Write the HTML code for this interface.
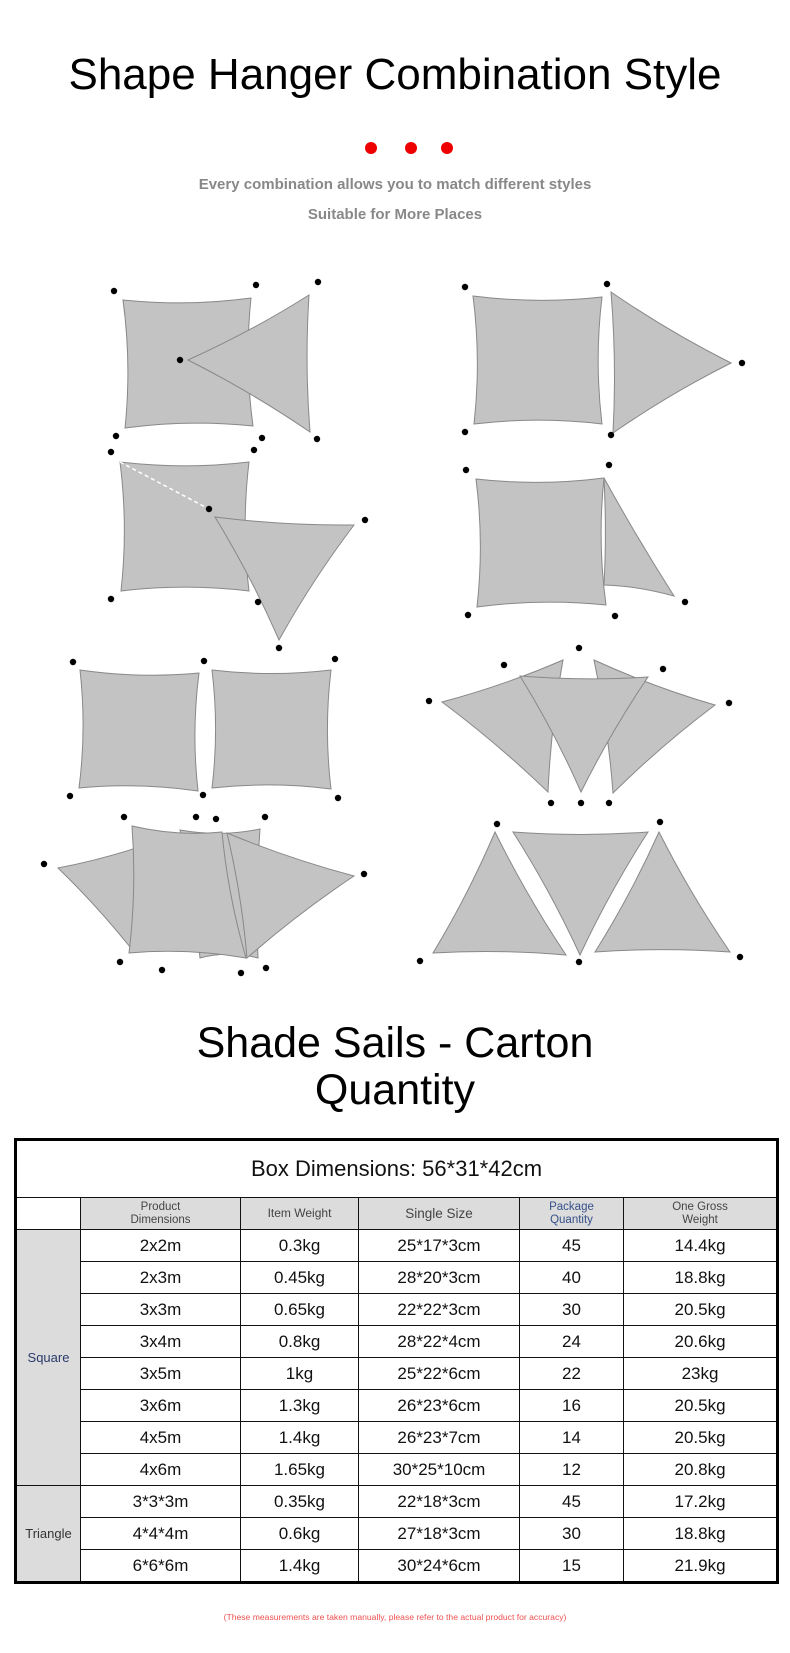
<!DOCTYPE html>
<html><head><meta charset="utf-8"><style>
body{margin:0;width:790px;height:1653px;background:#fff;position:relative;overflow:hidden;font-family:"Liberation Sans",sans-serif}
.t{position:absolute;left:0;width:790px;text-align:center}
table{position:absolute;left:14px;top:1138px;width:762px;border-collapse:collapse;border:3px solid #000;table-layout:fixed}
td{border:1.5px solid #111;text-align:center;font-size:17px;height:31px;padding:0;color:#111}
.h td{background:#dcdcdc;font-size:11.5px;color:#444;line-height:13px;height:31px}
.g{background:#dcdcdc!important;font-size:13px;color:#333}
</style></head><body>
<div class="t" style="top:50px;font-size:44px;color:#000">Shape Hanger Combination Style</div>
<svg style="position:absolute;left:0;top:0" width="790" height="160">
<circle cx="371" cy="148" r="6" fill="#e00"/><circle cx="411" cy="148" r="6" fill="#e00"/><circle cx="447" cy="148" r="6" fill="#e00"/></svg>
<div class="t" style="top:176px;font-size:15px;font-weight:bold;color:#888">Every combination allows you to match different styles</div>
<div class="t" style="top:206px;font-size:15px;font-weight:bold;color:#888">Suitable for More Places</div>
<svg id="sails" style="position:absolute;left:0;top:0" width="790" height="1000"></svg>
<div class="t" style="top:1020px;font-size:43px;line-height:47px;color:#000">Shade Sails - Carton<br>Quantity</div>
<table>
<colgroup><col style="width:65px"><col style="width:160px"><col style="width:118px"><col style="width:161px"><col style="width:104px"><col style="width:154px"></colgroup>
<tr><td colspan="6" style="height:56px;font-size:22px">Box Dimensions: 56*31*42cm</td></tr>
<tr class="h"><td style="background:#fff"></td><td>Product<br>Dimensions</td><td style="font-size:12px">Item Weight</td><td style="font-size:13.5px">Single Size</td><td style="color:#35508a">Package<br>Quantity</td><td>One Gross<br>Weight</td></tr>
<tr><td rowspan="8" class="g" style="color:#2a3a6a">Square</td><td>2x2m</td><td>0.3kg</td><td>25*17*3cm</td><td>45</td><td>14.4kg</td></tr>
<tr><td>2x3m</td><td>0.45kg</td><td>28*20*3cm</td><td>40</td><td>18.8kg</td></tr>
<tr><td>3x3m</td><td>0.65kg</td><td>22*22*3cm</td><td>30</td><td>20.5kg</td></tr>
<tr><td>3x4m</td><td>0.8kg</td><td>28*22*4cm</td><td>24</td><td>20.6kg</td></tr>
<tr><td>3x5m</td><td>1kg</td><td>25*22*6cm</td><td>22</td><td>23kg</td></tr>
<tr><td>3x6m</td><td>1.3kg</td><td>26*23*6cm</td><td>16</td><td>20.5kg</td></tr>
<tr><td>4x5m</td><td>1.4kg</td><td>26*23*7cm</td><td>14</td><td>20.5kg</td></tr>
<tr><td>4x6m</td><td>1.65kg</td><td>30*25*10cm</td><td>12</td><td>20.8kg</td></tr>
<tr><td rowspan="3" class="g">Triangle</td><td>3*3*3m</td><td>0.35kg</td><td>22*18*3cm</td><td>45</td><td>17.2kg</td></tr>
<tr><td>4*4*4m</td><td>0.6kg</td><td>27*18*3cm</td><td>30</td><td>18.8kg</td></tr>
<tr><td>6*6*6m</td><td>1.4kg</td><td>30*24*6cm</td><td>15</td><td>21.9kg</td></tr>
</table>
<div class="t" style="top:1612px;font-size:8.6px;color:#f05050">(These measurements are taken manually, please refer to the actual product for accuracy)</div>
<script>
const shapes=[
[[123,300],[251,298],[253,426],[125,428]],
[[188,360],[309,295],[310,432]],
[[473,296],[602,297],[602,424],[474,424]],
[[611,292],[731,363],[613,433]],
[[120,462],[249,462],[249,591],[121,591]],
[[215,517],[354,525],[279,640]],
[[604,478],[674,596],[604,585]],
[[476,479],[604,478],[606,605],[477,607]],
[[80,670],[199,673],[198,791],[79,788]],
[[212,670],[331,670],[331,789],[212,788]],
[[442,702],[563,660],[548,792]],
[[594,660],[715,705],[613,793]],
[[520,676],[648,677],[581,792]],
[[58,868],[160,840],[134,952]],
[[180,830],[260,829],[258,958],[200,958]],
[[227,833],[354,876],[247,958]],
[[132,826],[222,832],[246,958],[129,953]],
[[495,832],[433,953],[566,955]],
[[513,832],[648,832],[580,955]],
[[659,832],[595,952],[730,952]]];
const pins=[[114,291],[256,285],[116,436],[262,438],[318,282],[317,439],[180,360],[465,287],[607,284],[742,363],[611,435],[465,432],[111,452],[254,450],[111,599],[258,602],[209,509],[365,520],[279,648],[466,470],[609,465],[468,615],[615,616],[685,602],[73,662],[204,661],[335,659],[70,796],[203,795],[338,798],[429,701],[729,703],[504,665],[663,669],[579,648],[551,803],[581,803],[609,803],[44,864],[124,817],[196,817],[216,819],[265,817],[364,874],[120,962],[162,970],[241,973],[266,968],[497,824],[660,822],[420,961],[579,962],[740,957]];
const sv=document.getElementById('sails');
const NS='http://www.w3.org/2000/svg';
shapes.forEach(p=>{
 const cx=p.reduce((a,b)=>a+b[0],0)/p.length, cy=p.reduce((a,b)=>a+b[1],0)/p.length;
 let d='M'+p[0][0]+' '+p[0][1];
 for(let i=0;i<p.length;i++){const a=p[i],b=p[(i+1)%p.length];
  const mx=(a[0]+b[0])/2,my=(a[1]+b[1])/2;const k=0.12;
  d+=' Q'+(mx+(cx-mx)*k)+' '+(my+(cy-my)*k)+' '+b[0]+' '+b[1];}
 const e=document.createElementNS(NS,'path');
 e.setAttribute('d',d+'Z');e.setAttribute('fill','#c3c3c3');e.setAttribute('stroke','#888');e.setAttribute('stroke-width','1');
 
 
 sv.appendChild(e);
});
const dl=document.createElementNS(NS,'line');
dl.setAttribute('x1',120);dl.setAttribute('y1',462);dl.setAttribute('x2',209);dl.setAttribute('y2',509);
dl.setAttribute('stroke','#fff');dl.setAttribute('stroke-dasharray','4 3');dl.setAttribute('stroke-width','1.5');


sv.appendChild(dl);
pins.forEach(q=>{
 const c=document.createElementNS(NS,'circle');
 c.setAttribute('cx',q[0]);c.setAttribute('cy',q[1]);c.setAttribute('r',3.2);c.setAttribute('fill','#000');
 
 
 sv.appendChild(c);
});
</script>
</body></html>
